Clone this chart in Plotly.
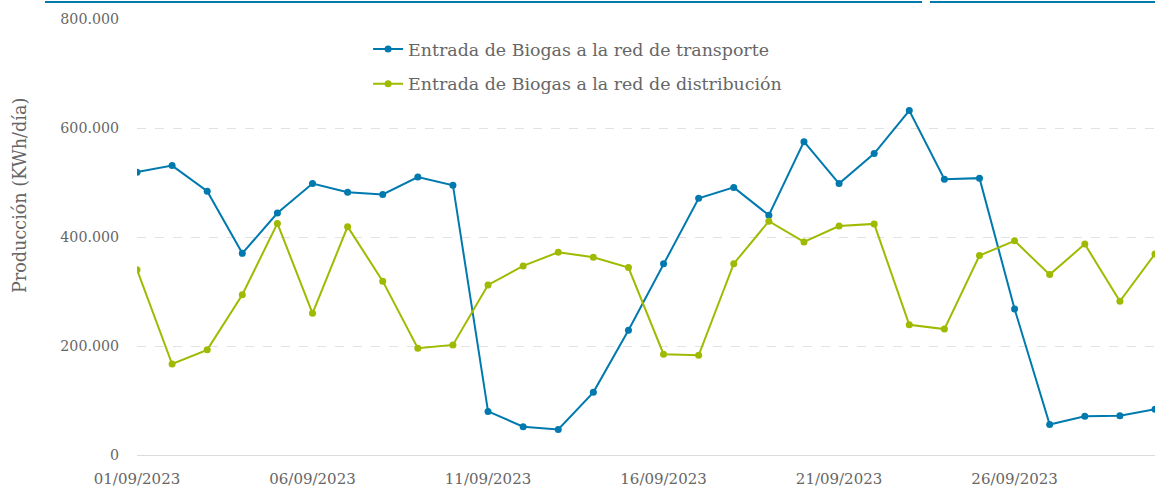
import plotly.graph_objects as go

fechas = ["2023-09-%02d" % d for d in range(1, 31)]

transporte = [519000, 531000, 484000, 370000, 444000, 498000, 482000, 478000, 510000, 495000,
              80000, 52000, 47000, 115000, 229000, 351000, 471000, 491000, 440000, 575000,
              498000, 553000, 632000, 506000, 508000, 268000, 56000, 71000, 72000, 84000]

distribucion = [340000, 167000, 193000, 294000, 425000, 260000, 419000, 319000, 196000, 202000,
                312000, 347000, 372000, 363000, 344000, 185000, 183000, 351000, 429000, 391000,
                420000, 424000, 239000, 231000, 366000, 393000, 331000, 387000, 282000, 369000]

tick_fechas = ["2023-09-01", "2023-09-06", "2023-09-11", "2023-09-16", "2023-09-21", "2023-09-26"]
tick_textos = ["01/09/2023", "06/09/2023", "11/09/2023", "16/09/2023", "21/09/2023", "26/09/2023"]

AZUL = "#007aae"
VERDE = "#9fba00"
GRIS = "#666666"
FONT = "DejaVu Serif"

fig = go.Figure()
fig.add_trace(go.Scatter(x=fechas, y=transporte, mode="lines+markers",
                         name="Entrada de Biogas a la red de transporte",
                         line=dict(color=AZUL, width=2), marker=dict(color=AZUL, size=7),
                         legendgroup="a"))
fig.add_trace(go.Scatter(x=fechas, y=distribucion, mode="lines+markers",
                         name="Entrada de Biogas a la red de distribución",
                         line=dict(color=VERDE, width=2), marker=dict(color=VERDE, size=7),
                         legendgroup="b"))

fig.update_layout(
    width=1155, height=487,
    margin=dict(l=137, r=0, t=19, b=32),
    paper_bgcolor="white", plot_bgcolor="white",
    separators=",.",
    font=dict(family=FONT, color=GRIS, size=14),
    legend=dict(x=0.227, y=0.972, xanchor="left", yanchor="top",
                font=dict(size=17.4, color=GRIS), tracegroupgap=9,
                itemwidth=30, bgcolor="rgba(0,0,0,0)"),
    showlegend=True,
)
fig.update_xaxes(type="date", range=["2023-09-01", "2023-09-30"],
                 tickvals=tick_fechas, ticktext=tick_textos,
                 showgrid=False, showline=False, zeroline=False,
                 tickfont=dict(size=15, color=GRIS), ticks="", ticklabelstandoff=13)
fig.update_yaxes(range=[0, 800000], dtick=200000, tickformat=",.0f",
                 showgrid=True, gridcolor="#e2e2e2", griddash="dash", gridwidth=1,
                 zeroline=True, zerolinecolor="#dcdcdc", zerolinewidth=1,
                 showline=False, ticks="", ticklabelstandoff=17,
                 tickfont=dict(size=14.2, color=GRIS))

fig.add_annotation(text="Producción (KWh/día)", xref="paper", yref="paper",
                   x=(20 - 137) / 1018, y=(455 - 196) / 436, textangle=-90,
                   showarrow=False, font=dict(size=17.6, color=GRIS),
                   xanchor="center", yanchor="middle")

# top blue rule
for x0, x1 in [((45 - 137) / 1018, (922 - 137) / 1018), ((930 - 137) / 1018, 1.0)]:
    fig.add_shape(type="line", xref="paper", yref="paper", x0=x0, x1=x1,
                  y0=1 + 17 / 436, y1=1 + 17 / 436, line=dict(color=AZUL, width=2))

fig.write_html("out.html", config={"displayModeBar": False},
               post_script="document.body.style.margin='0';")
